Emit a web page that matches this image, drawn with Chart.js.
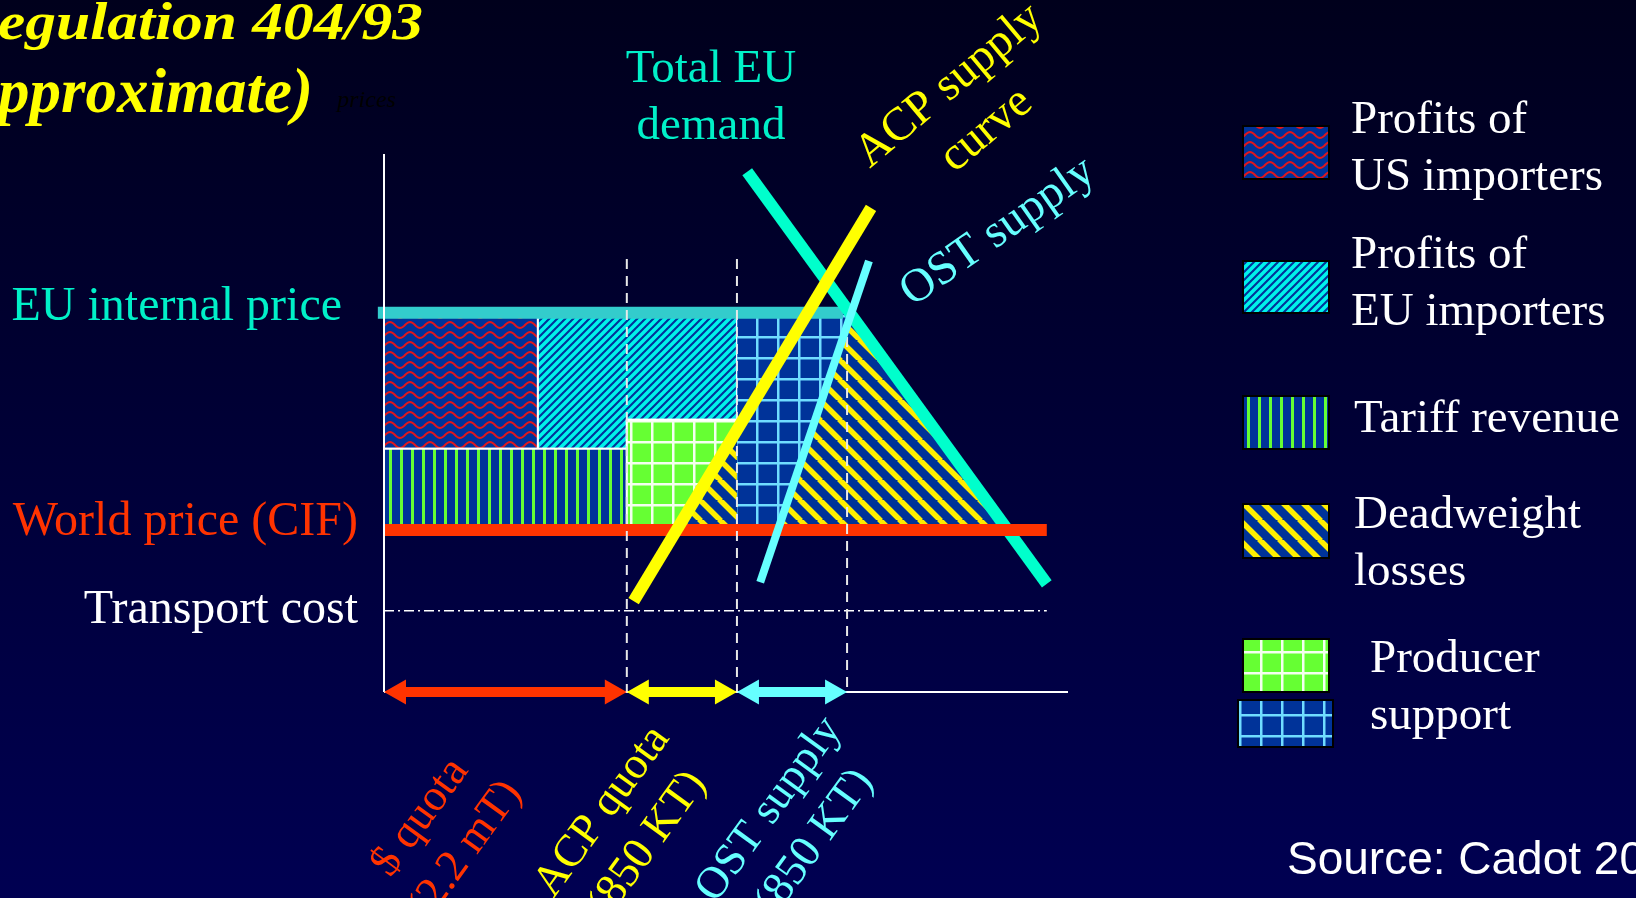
<!DOCTYPE html>
<html>
<head>
<meta charset="utf-8">
<title>Regulation 404/93 (approximate)</title>
<script src="https://cdn.jsdelivr.net/npm/chart.js@4.4.1/dist/chart.umd.min.js"></script>
<style>
  html, body { margin: 0; padding: 0; background: #000030; overflow: hidden; }
  #wrap { width: 1636px; height: 898px; }
</style>
</head>
<body>
<div id="wrap"><canvas id="chart" width="1636" height="898"></canvas></div>
<script>
// quantity runs 0..100 along the x axis, price 0..100 up the y axis (approximate units)
const qBreaks = [0, 35.5, 51.6, 67.7];          // $ quota | ACP quota | OST supply
const qUS = 22.5;                               // split between US and EU importer rents
const euPrice = 70.5;
const worldPrice = 30.1;
const transportCost = 15.1;
const tariffTop = 45.2;
const acpTop = 50.6;
const priceLineEnd = 96.9;
const euLineSpan = [-0.9, 67.1];
const guideTops = [80.5, 80.5, 66];

const demandCurve = [[53.1, 96.7], [96.9, 20.1]];
const acpCurve = [[36.5, 16.9], [71.2, 90.0]];
const ostCurve = [[55.0, 20.4], [70.9, 80.1]];

const quotaLabels = [['$ quota', '(2.2 mT)'], ['ACP quota', '(850 KT)'], ['OST supply', '(850 KT)']];
const quotaColors = ['#ff3300', '#ffff00', '#66ffff'];
const priceLabels = ['EU internal price', 'World price (CIF)', 'Transport cost'];
const legendLabels = [['Profits of', 'US importers'], ['Profits of', 'EU importers'], ['Tariff revenue'],
                      ['Deadweight', 'losses'], ['Producer', 'support']];

const SERIF = '"Liberation Serif", "Times New Roman", serif';
const BLUE = '#003399';

// ---- fill textures ----
function tile(w, h, paint) {
  const c = document.createElement('canvas');
  c.width = w; c.height = h;
  const g = c.getContext('2d');
  paint(g, w, h);
  return g.createPattern(c, 'repeat');
}
const wavy = tile(20, 10, (g, w, h) => {
  g.fillStyle = BLUE; g.fillRect(0, 0, w, h);
  g.strokeStyle = '#e3171c'; g.lineWidth = 2;
  g.beginPath();
  for (let i = -1; i <= w + 1; i++) {
    const yy = 5 + 3 * Math.cos(2 * Math.PI * i / w);
    i < 0 ? g.moveTo(i, yy) : g.lineTo(i, yy);
  }
  g.stroke();
});
function diagonal(size, bg, fg, width, down) {
  return tile(size, size, (g, s) => {
    g.fillStyle = bg; g.fillRect(0, 0, s, s);
    g.strokeStyle = fg; g.lineWidth = width;
    g.beginPath();
    for (const o of [-s, 0, s]) {
      if (down) { g.moveTo(o - 1, -1); g.lineTo(o + s + 1, s + 1); }
      else { g.moveTo(o - 1, s + 1); g.lineTo(o + s + 1, -1); }
    }
    g.stroke();
  });
}
const cyanHatch = diagonal(8, BLUE, '#00f2ea', 3.6, false);
const yellowHatch = diagonal(20, BLUE, '#ffee00', 5.5, true);
const greenBars = tile(11, 4, (g, w, h) => {
  g.fillStyle = BLUE; g.fillRect(0, 0, w, h);
  g.fillStyle = '#66ff33'; g.fillRect(4, 0, 3, h);
});
function grid(bg, fg) {
  return tile(21, 21, (g, w, h) => {
    g.fillStyle = bg; g.fillRect(0, 0, w, h);
    g.fillStyle = fg; g.fillRect(0, 0, w, 2.5); g.fillRect(0, 0, 2.5, h);
  });
}
const greenGrid = grid('#66ff33', '#f4fff0');
const blueGrid = grid(BLUE, '#70ddff');

// ---- geometry helpers ----
const xAt = ([[x1, y1], [x2, y2]], p) => x1 + (p - y1) * (x2 - x1) / (y2 - y1);
const yAt = ([[x1, y1], [x2, y2]], q) => y1 + (q - x1) * (y2 - y1) / (x2 - x1);
const pt = ([x, y]) => ({x, y});

function lineSet(points, color, width, dash) {
  return {data: points.map(pt), showLine: true, borderColor: color, borderWidth: width,
          borderDash: dash || [], borderCapStyle: 'butt', pointRadius: 0, fill: false, clip: false};
}
function areaSet(points, pattern, edge) {
  return {data: points.concat([points[0]]).map(pt), showLine: true, fill: 'shape',
          backgroundColor: pattern, borderColor: edge || 'rgba(0,0,0,0)', borderWidth: edge ? 2 : 0,
          borderJoinStyle: 'miter', pointRadius: 0, clip: false};
}

const [q0, qQuota, qACP, qOST] = qBreaks;
const acpAtWorld = xAt(acpCurve, worldPrice);
const ostAtWorld = xAt(ostCurve, worldPrice);

// painted bottom to top
const layers = [
  areaSet([[q0, tariffTop], [qUS, tariffTop], [qUS, euPrice], [q0, euPrice]], wavy, '#ffffff'),
  areaSet([[qUS, euPrice], [qACP, euPrice], [qACP, acpTop], [qQuota, acpTop], [qQuota, tariffTop], [qUS, tariffTop]], cyanHatch, '#ffffff'),
  areaSet([[q0, worldPrice], [qQuota, worldPrice], [qQuota, tariffTop], [q0, tariffTop]], greenBars, '#ffffff'),
  areaSet([[qQuota, acpTop], [qACP, acpTop], [qACP, yAt(acpCurve, qACP)], [acpAtWorld, worldPrice], [qQuota, worldPrice]], greenGrid, '#ffffff'),
  areaSet([[qACP, euPrice], [qOST, euPrice], [qOST, yAt(ostCurve, qOST)], [ostAtWorld, worldPrice], [qACP, worldPrice]], blueGrid),
  areaSet([[qOST, yAt(ostCurve, qOST)], [qOST, euPrice], [xAt(demandCurve, euPrice), euPrice],
           [xAt(demandCurve, worldPrice), worldPrice], [ostAtWorld, worldPrice]], yellowHatch),
  areaSet([[acpAtWorld, worldPrice], [qACP, worldPrice], [qACP, yAt(acpCurve, qACP)]], yellowHatch),
  lineSet([[q0, transportCost], [priceLineEnd, transportCost]], '#ffffff', 1.5, [10, 4, 2, 4]),
  lineSet([[euLineSpan[0], euPrice], [euLineSpan[1], euPrice]], '#33cccc', 12),
  lineSet(demandCurve, '#00ffcc', 12),
  lineSet([[q0, worldPrice], [priceLineEnd, worldPrice]], '#ff3300', 12),
  ...qBreaks.slice(1).map((q, i) => lineSet([[q, guideTops[i]], [q, 0]], '#e8e8e8', 2, [10, 7])),
  lineSet(acpCurve, '#ffff00', 12),
  lineSet(ostCurve, '#66ffff', 8),
  lineSet([[0, 0], [0, 100]], '#ffffff', 2),
  lineSet([[0, 0], [100, 0]], '#ffffff', 2)
];
layers.forEach((d, i) => { d.order = layers.length - i; });

// ---- plugins ----
const backdrop = {
  id: 'backdrop',
  beforeDraw(chart) {
    const {ctx, width, height} = chart;
    const g = ctx.createLinearGradient(0, 0, 0, height);
    g.addColorStop(0, '#00001c');
    g.addColorStop(1, '#000052');
    ctx.save(); ctx.fillStyle = g; ctx.fillRect(0, 0, width, height); ctx.restore();
  }
};

const quotaArrows = {
  id: 'quotaArrows',
  afterDatasetsDraw(chart) {
    const {ctx, scales: {x, y}} = chart;
    const py = y.getPixelForValue(0);
    const head = 22, half = 12.5, shaft = 5;
    ctx.save();
    quotaColors.forEach((color, i) => {
      const a = x.getPixelForValue(qBreaks[i]), b = x.getPixelForValue(qBreaks[i + 1]);
      ctx.fillStyle = color;
      ctx.beginPath();
      ctx.moveTo(a, py);
      ctx.lineTo(a + head, py - half); ctx.lineTo(a + head, py - shaft);
      ctx.lineTo(b - head, py - shaft); ctx.lineTo(b - head, py - half);
      ctx.lineTo(b, py);
      ctx.lineTo(b - head, py + half); ctx.lineTo(b - head, py + shaft);
      ctx.lineTo(a + head, py + shaft); ctx.lineTo(a + head, py + half);
      ctx.closePath();
      ctx.fill();
    });
    ctx.restore();
  }
};

function rotated(ctx, lines, cx, cy, deg, color, gap) {
  ctx.save();
  ctx.translate(cx, cy);
  ctx.rotate(deg * Math.PI / 180);
  ctx.fillStyle = color;
  ctx.textAlign = 'center';
  ctx.textBaseline = 'middle';
  lines.forEach((t, i) => ctx.fillText(t, 0, (i - (lines.length - 1) / 2) * gap));
  ctx.restore();
}

const annotations = {
  id: 'annotations',
  afterDraw(chart) {
    const {ctx, scales: {x, y}} = chart;
    const left = x.getPixelForValue(0);
    ctx.save();

    // title, cut by the left edge
    ctx.fillStyle = '#ffff00';
    ctx.textBaseline = 'alphabetic';
    ctx.textAlign = 'right';
    ctx.font = `bold italic 52px ${SERIF}`;
    const stretch = 425 / ctx.measureText('egulation 404/93').width;
    ctx.save(); ctx.translate(423, 39); ctx.scale(stretch, 1);
    ctx.fillText('Regulation 404/93', 0, 0); ctx.restore();
    ctx.font = `bold italic 63px ${SERIF}`;
    ctx.fillText('(approximate)', 313, 112);
    ctx.fillStyle = '#000000';
    ctx.textAlign = 'left';
    ctx.font = `italic 24px ${SERIF}`;
    ctx.fillText('prices', 337, 107);

    // price levels
    ctx.font = `48px ${SERIF}`;
    ctx.textAlign = 'right';
    ctx.fillStyle = '#00f0c8';
    ctx.fillText(priceLabels[0], left - 42, y.getPixelForValue(euPrice) + 7);
    ctx.fillStyle = '#ff3300';
    ctx.fillText(priceLabels[1], left - 26, y.getPixelForValue(worldPrice) + 5);
    ctx.fillStyle = '#ffffff';
    ctx.fillText(priceLabels[2], left - 26, y.getPixelForValue(transportCost) + 12);

    // curve names
    ctx.font = `47px ${SERIF}`;
    ctx.textAlign = 'center';
    ctx.fillStyle = '#00f0c8';
    ctx.fillText('Total EU', 711, 82);
    ctx.fillText('demand', 711, 139);
    rotated(ctx, ['ACP supply', 'curve'], 968, 108, -40, '#ffff00', 58);
    rotated(ctx, ['OST supply'], 998, 232, -35, '#66ffff', 58);

    // quota brackets under the axis
    ctx.font = `45px ${SERIF}`;
    const spots = [[443, 834], [625, 828], [792, 826]];
    quotaLabels.forEach((lines, i) => rotated(ctx, lines, spots[i][0], spots[i][1], -54, quotaColors[i], 56));

    // source
    ctx.textAlign = 'left';
    ctx.fillStyle = '#ffffff';
    ctx.font = '46px "Liberation Sans", Arial, sans-serif';
    ctx.fillText('Source: Cadot 2005', 1287, 874);
    ctx.restore();
  }
};

const keyBox = {
  id: 'keyBox',
  afterDraw(chart) {
    const {ctx} = chart;
    const swatches = [
      [wavy, 1243, 126, 86, 53], [cyanHatch, 1243, 261, 86, 52], [greenBars, 1243, 396, 86, 53],
      [yellowHatch, 1243, 504, 86, 54], [greenGrid, 1243, 639, 86, 53], [blueGrid, 1238, 700, 95, 47]
    ];
    ctx.save();
    swatches.forEach(([pat, sx, sy, w, h]) => {
      ctx.fillStyle = pat; ctx.fillRect(sx, sy, w, h);
      ctx.strokeStyle = '#000000'; ctx.lineWidth = 2; ctx.strokeRect(sx, sy, w, h);
    });
    const spots = [[1351, 133], [1351, 268], [1354, 432], [1354, 528], [1370, 672]];
    ctx.fillStyle = '#ffffff';
    ctx.font = `47px ${SERIF}`;
    ctx.textAlign = 'left';
    ctx.textBaseline = 'alphabetic';
    legendLabels.forEach((lines, i) => lines.forEach((t, j) => ctx.fillText(t, spots[i][0], spots[i][1] + j * 57)));
    ctx.restore();
  }
};

new Chart(document.getElementById('chart'), {
  type: 'scatter',
  data: {datasets: layers},
  options: {
    responsive: false,
    devicePixelRatio: 1,
    animation: false,
    layout: {padding: {left: 384, right: 568, top: 154, bottom: 206}},
    scales: {
      x: {type: 'linear', min: 0, max: 100, display: false},
      y: {type: 'linear', min: 0, max: 100, display: false}
    },
    plugins: {legend: {display: false}, tooltip: {enabled: false}},
    events: []
  },
  plugins: [backdrop, quotaArrows, annotations, keyBox]
});
</script>
</body>
</html>
